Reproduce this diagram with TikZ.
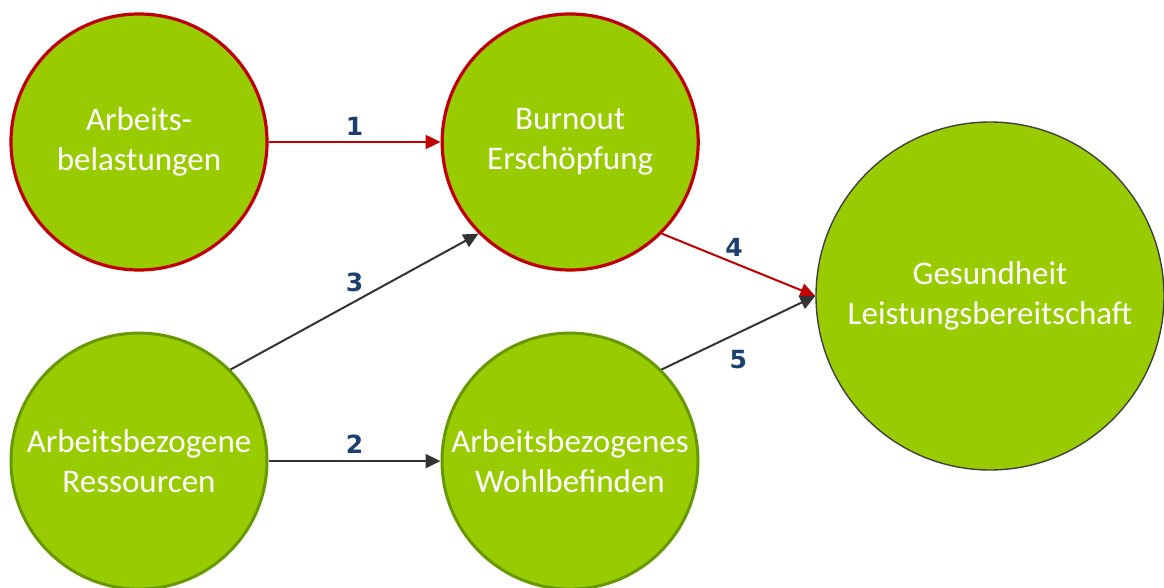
\documentclass[tikz,border=0pt]{standalone}
\usepackage{fontspec}
\setmainfont{Carlito}
\newfontfamily\numfont{DejaVu Sans}
\usetikzlibrary{arrows.meta, positioning}

\definecolor{leafgreen}{HTML}{99CC00}
\definecolor{strainred}{HTML}{C00000}
\definecolor{resgreen}{HTML}{669900}
\definecolor{goalgray}{HTML}{404040}
\definecolor{arrowgray}{HTML}{333333}
\definecolor{numblue}{HTML}{1B3F6E}

\begin{document}
\begin{tikzpicture}[
  x=0.5pt, y=-0.5pt,
  node distance=30pt and 86pt,
  >={Triangle[length=7.5pt,width=7pt]},
  font=\fontsize{16.5}{20}\selectfont,
  circ/.style={
    circle, fill=leafgreen, text=white,
    align=center, inner sep=0pt,
    minimum size=128pt
  },
  strain/.style={circ, draw=strainred, line width=1.6pt},
  res/.style={circ, draw=resgreen, line width=1.5pt},
  goal/.style={circ, draw=goalgray, line width=0.7pt, minimum size=174pt},
  negarrow/.style={->, draw=strainred, line width=1pt},
  posarrow/.style={->, draw=arrowgray, line width=1pt},
  num/.style={font=\numfont\bfseries\fontsize{12.5}{14}\selectfont, text=numblue, inner sep=2.5pt},
]
\useasboundingbox (0,0) rectangle (1164,588);

% --- Demands and strain ---
\node[strain] (LOAD) at (139,142) {Arbeits-\\belastungen};
\node[strain, right=of LOAD] (BURN) {Burnout\\Erschöpfung};

% --- Resources and well-being ---
\node[res, below=of LOAD] (RES) {Arbeitsbezogene\\Ressourcen};
\node[res, right=of RES] (WELL) {Arbeitsbezogenes\\Wohlbefinden};

% --- Outcome ---
\node[goal] (HEALTH) at (990,296) {Gesundheit\\Leistungsbereitschaft};

% --- Arrows ---
\draw[negarrow] (LOAD) -- node[num, above] (n1) {1} (BURN);
\draw[posarrow] (RES) -- node[num, above, yshift=1pt] (n2) {2} (WELL);
\draw[posarrow] (RES.45) -- node[num, above, yshift=2pt] (n3) {3} (BURN.225);
\draw[negarrow] (BURN.-45) -- node[num, above, pos=0.47] (n4) {4} (HEALTH.west);
\draw[posarrow] (WELL.45) -- node[num, below, yshift=-6pt] (n5) {5} (HEALTH.west);

\end{tikzpicture}
\end{document}
